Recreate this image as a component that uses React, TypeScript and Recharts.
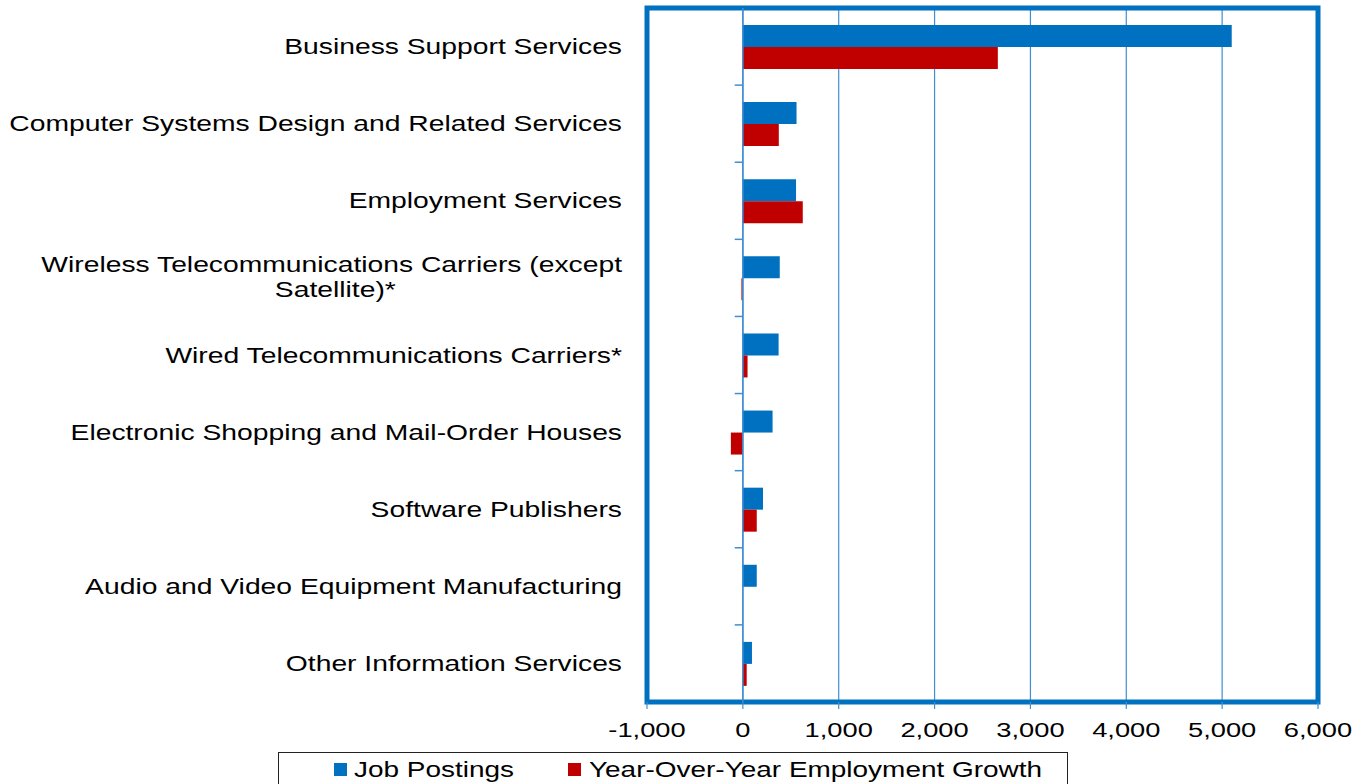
import {
  BarChart,
  Bar,
  XAxis,
  YAxis,
  CartesianGrid,
  Legend,
  ReferenceArea,
  ReferenceLine,
} from "recharts";

const categories = [
  "Business Support Services",
  "Computer Systems Design and Related Services",
  "Employment Services",
  "Wireless Telecommunications Carriers (except\nSatellite)*",
  "Wired Telecommunications Carriers*",
  "Electronic Shopping and Mail-Order Houses",
  "Software Publishers",
  "Audio and Video Equipment Manufacturing",
  "Other Information Services",
];
const jobPostings = [5100, 560, 555, 385, 373, 310, 210, 145, 95];
const employmentGrowth = [2660, 375, 625, -15, 49, -125, 145, 0, 40];
const xTicks = [-1000, 0, 1000, 2000, 3000, 4000, 5000, 6000];

const BLUE = "#0070C0";
const RED = "#C00000";
const GRID = "#3F8FD2";
const FONT = "'Liberation Sans', Arial, sans-serif";
const STRETCH = 1.3;

const data = categories.map((name, i) => ({
  name,
  jobs: jobPostings[i],
  growth: employmentGrowth[i],
}));

// Excel squeezed into a wider image: text is stretched sideways
function CategoryTick(props: any) {
  const { x, y, payload } = props;
  const lines = String(payload.value).split("\n");
  const right = x - 17;
  const s = STRETCH + 0.015;
  if (lines.length === 1) {
    return (
      <g transform={`translate(${right},${y}) scale(${s},1)`}>
        <text x={0} y={7.5} textAnchor="end" fontSize={21.5} fontFamily={FONT} fill="#000">
          {lines[0]}
        </text>
      </g>
    );
  }
  return (
    <g transform={`translate(${right},${y}) scale(${s},1)`}>
      <text x={0} y={-6} textAnchor="end" fontSize={21.5} fontFamily={FONT} fill="#000">
        {lines[0]}
      </text>
      <text x={-218} y={19} textAnchor="middle" fontSize={21.5} fontFamily={FONT} fill="#000">
        {lines[1]}
      </text>
    </g>
  );
}

function ValueTick(props: any) {
  const { x, y, payload } = props;
  return (
    <g transform={`translate(${x},${y}) scale(${STRETCH},1)`}>
      <text x={0} y={26} textAnchor="middle" fontSize={21} fontFamily={FONT} fill="#000">
        {Number(payload.value).toLocaleString("en-US")}
      </text>
    </g>
  );
}

function LegendBox() {
  const item = (color: string, label: string, markLeft: number, textLeft: number) => (
    <>
      <div
        style={{
          position: "absolute",
          left: markLeft,
          top: 10,
          width: 13,
          height: 13,
          background: color,
        }}
      />
      <div
        style={{
          position: "absolute",
          left: textLeft,
          top: 4,
          fontSize: 21.5,
          lineHeight: "26px",
          fontFamily: FONT,
          color: "#000",
          whiteSpace: "nowrap",
          transform: `scaleX(${STRETCH})`,
          transformOrigin: "left center",
        }}
      >
        {label}
      </div>
    </>
  );
  return (
    <div
      style={{
        position: "relative",
        marginLeft: 278,
        marginTop: 5,
        width: 790,
        height: 40,
        border: "1px solid #222",
        boxSizing: "border-box",
        background: "#fff",
      }}
    >
      {item(BLUE, "Job Postings", 55, 75)}
      {item(RED, "Year-Over-Year Employment Growth", 289, 310)}
    </div>
  );
}

export default function App() {
  return (
    <div style={{ position: "absolute", left: 0, top: 0, width: 1358, height: 784, background: "#fff" }}>
      <BarChart
        width={1358}
        height={784}
        data={data}
        layout="vertical"
        margin={{ top: 8, right: 40, left: 0, bottom: 0 }}
        barGap={0}
      >
        <CartesianGrid horizontal={false} vertical={true} stroke={GRID} strokeWidth={1.2} />
        <XAxis
          type="number"
          domain={[-1000, 6000]}
          ticks={xTicks}
          interval={0}
          axisLine={false}
          tickLine={{ stroke: GRID, strokeWidth: 1.2 }}
          tickSize={7}
          height={45}
          tick={<ValueTick />}
        />
        <YAxis
          type="category"
          dataKey="name"
          width={647}
          axisLine={false}
          tickLine={false}
          interval={0}
          tick={<CategoryTick />}
        />
        <Legend verticalAlign="bottom" height={37} wrapperStyle={{ left: 0, width: 1358 }} content={<LegendBox />} />
        <Bar dataKey="jobs" name="Job Postings" fill={BLUE} barSize={22} isAnimationActive={false} />
        <Bar dataKey="growth" name="Year-Over-Year Employment Growth" fill={RED} barSize={22} isAnimationActive={false} />
        <ReferenceLine x={0} stroke={GRID} strokeWidth={1.5} />
        {categories.slice(0, -1).map((c) => (
          <ReferenceLine
            key={c}
            segment={[
              { x: -85, y: c },
              { x: 0, y: c },
            ]}
            position="end"
            stroke={GRID}
            strokeWidth={1.5}
          />
        ))}
        <ReferenceArea x1={-1000} x2={6000} fill="none" fillOpacity={0} stroke={BLUE} strokeWidth={5} />
      </BarChart>
    </div>
  );
}
